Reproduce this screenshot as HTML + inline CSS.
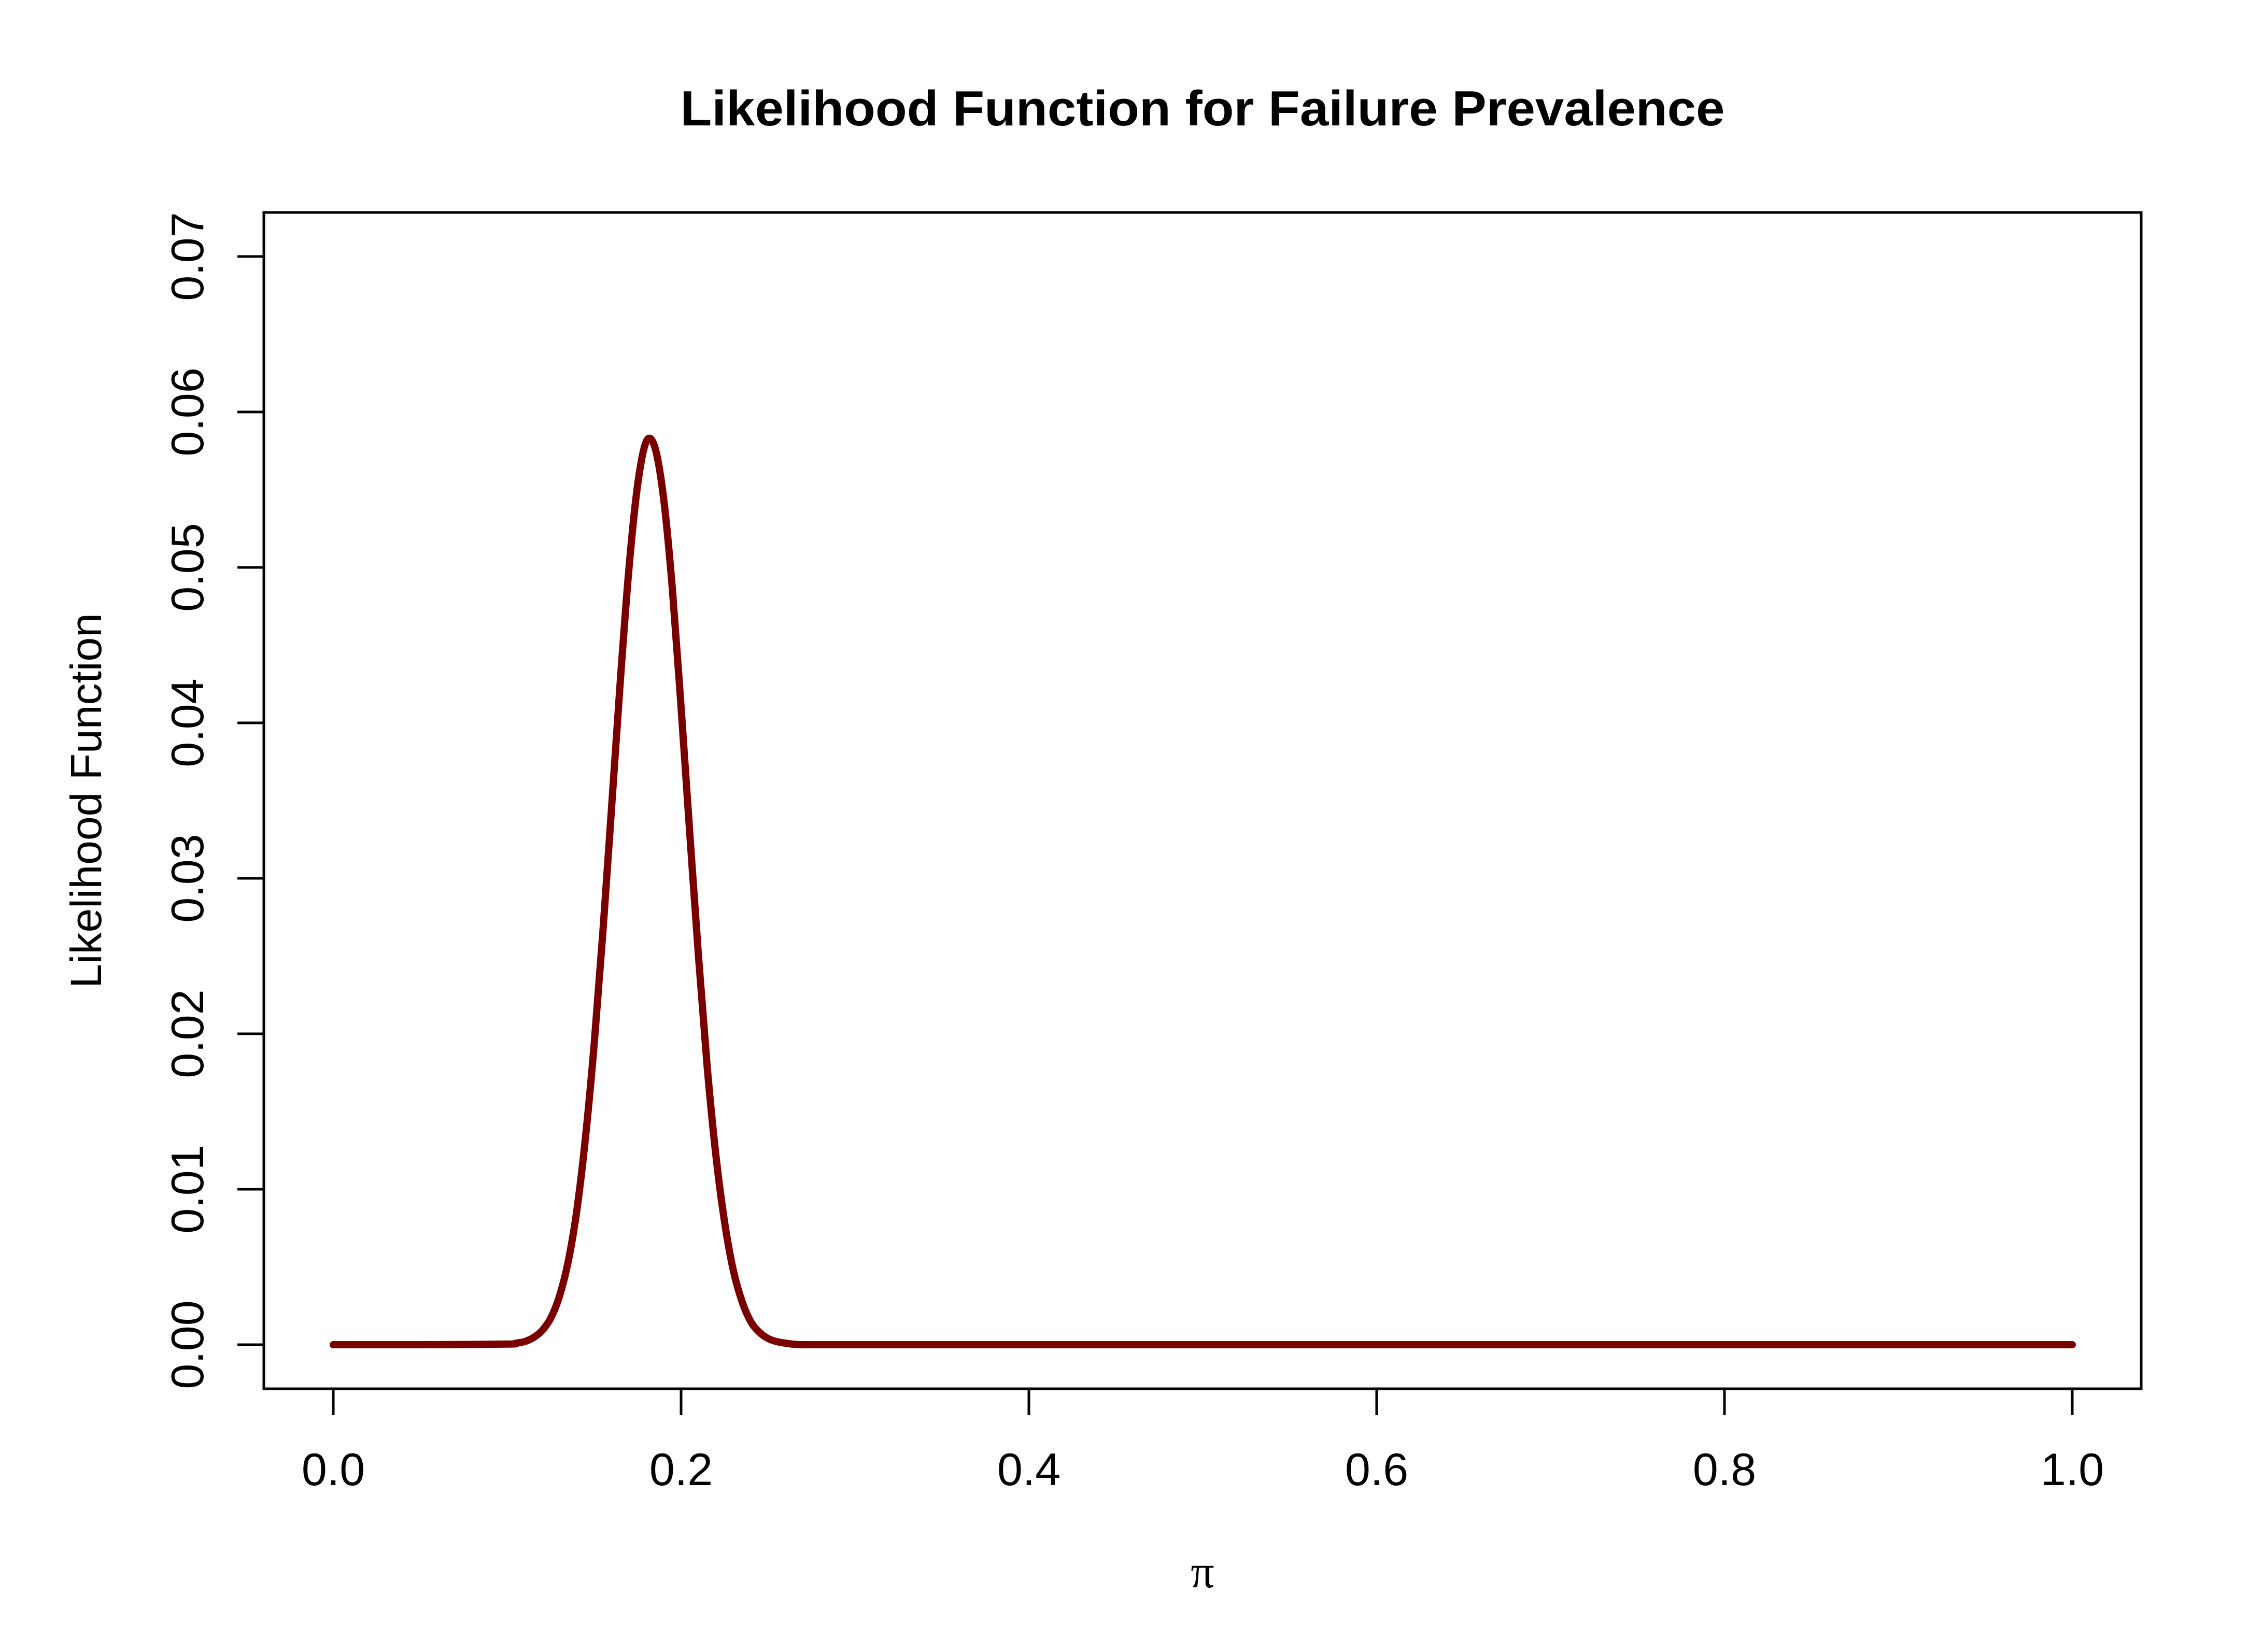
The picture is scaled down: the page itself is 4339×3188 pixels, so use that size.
<!DOCTYPE html>
<html><head><meta charset="utf-8"><style>
html,body{margin:0;padding:0;background:#fff;}
svg{display:block;}
</style></head><body>
<svg id="chart" width="4339" height="3188" viewBox="0 0 4339 3188" xmlns="http://www.w3.org/2000/svg">
<rect x="0" y="0" width="4339" height="3188" fill="#fff"/>
<text x="2320" y="242" text-anchor="middle" font-family="Liberation Sans, sans-serif" font-weight="bold" font-size="96" textLength="2015" lengthAdjust="spacingAndGlyphs">Likelihood Function for Failure Prevalence</text>
<rect x="509" y="410" width="3622" height="2270" fill="none" stroke="#000" stroke-width="5"/>
<g id="xaxis"></g>
<g id="yaxis"></g>
<text x="2320" y="3063" text-anchor="middle" font-family="Liberation Serif, serif" font-size="90">π</text>
<text transform="translate(195,1545) rotate(-90)" text-anchor="middle" font-family="Liberation Sans, sans-serif" font-size="84">Likelihood Function</text>
<g id="series"></g>
</svg>
<script>
const xTicks = [0, 0.2, 0.4, 0.6, 0.8, 1.0];
const xTickLabels = ["0.0", "0.2", "0.4", "0.6", "0.8", "1.0"];
const yTicks = [0, 0.01, 0.02, 0.03, 0.04, 0.05, 0.06, 0.07];
const yTickLabels = ["0.00", "0.01", "0.02", "0.03", "0.04", "0.05", "0.06", "0.07"];
const piValues = [0, 0.05, 0.100, 0.105, 0.110, 0.115, 0.120, 0.125, 0.130, 0.135, 0.140, 0.145, 0.150, 0.155, 0.160, 0.165, 0.170, 0.175, 0.180, 0.185, 0.190, 0.195, 0.200, 0.205, 0.210, 0.215, 0.220, 0.225, 0.230, 0.235, 0.240, 0.245, 0.250, 0.255, 0.260, 0.270, 0.30, 0.5, 1.0];
const likelihood = [0, 0, 0.00004, 0.0001, 0.0002, 0.00045, 0.0009, 0.0017, 0.0031, 0.0053, 0.0086, 0.0133, 0.0193, 0.0265, 0.0345, 0.0426, 0.0499, 0.0553, 0.0581, 0.0577, 0.0544, 0.0486, 0.0410, 0.0329, 0.0250, 0.0179, 0.0122, 0.0079, 0.0048, 0.0028, 0.0015, 0.0008, 0.0004, 0.0002, 0.0001, 0, 0, 0, 0];

const NS = "http://www.w3.org/2000/svg";
const X0 = 643, X1 = 3998, Y0 = 2595, Y7 = 495;
function sx(v){ return X0 + (X1 - X0) * v; }
function sy(v){ return Y0 - (Y0 - Y7) * v / 0.07; }
function mk(tag, attrs){ const e = document.createElementNS(NS, tag); for (const k in attrs) e.setAttribute(k, attrs[k]); return e; }

const xg = document.getElementById('xaxis');
xg.appendChild(mk('line', {x1: sx(xTicks[0]), x2: sx(xTicks[xTicks.length-1]), y1: 2680, y2: 2680, stroke: '#000', 'stroke-width': 5}));
xTicks.forEach((t, i) => {
  const l = mk('line', {x1: sx(t), x2: sx(t), y1: 2680, y2: 2731, stroke: '#000', 'stroke-width': 5});
  
  
  xg.appendChild(l);
  const tx = mk('text', {x: sx(t), y: 2866, 'text-anchor': 'middle', 'font-family': 'Liberation Sans, sans-serif', 'font-size': 88});
  tx.textContent = xTickLabels[i];
  
  
  xg.appendChild(tx);
});
const yg = document.getElementById('yaxis');
yg.appendChild(mk('line', {x1: 509, x2: 509, y1: sy(yTicks[0]), y2: sy(yTicks[yTicks.length-1]), stroke: '#000', 'stroke-width': 5}));
yTicks.forEach((t, i) => {
  const l = mk('line', {x1: 458, x2: 509, y1: sy(t), y2: sy(t), stroke: '#000', 'stroke-width': 5});
  
  
  yg.appendChild(l);
  const tx = mk('text', {transform: 'translate(392,' + sy(t) + ') rotate(-90)', 'text-anchor': 'middle', 'font-family': 'Liberation Sans, sans-serif', 'font-size': 88});
  tx.textContent = yTickLabels[i];
  
  
  yg.appendChild(tx);
});

const pts = piValues.map((p, i) => [sx(p), sy(likelihood[i])]);
let d = 'M' + pts[0][0] + ',' + pts[0][1];
for (let i = 0; i < pts.length - 1; i++) {
  const p0 = pts[Math.max(0, i-1)], p1 = pts[i], p2 = pts[i+1], p3 = pts[Math.min(pts.length-1, i+2)];
  let c1x = p1[0] + (p2[0]-p0[0])/6, c1y = p1[1] + (p2[1]-p0[1])/6;
  let c2x = p2[0] - (p3[0]-p1[0])/6, c2y = p2[1] - (p3[1]-p1[1])/6;
  if (p1[1] === p2[1]) { c1y = p1[1]; c2y = p2[1]; }
  c1y = Math.min(c1y, Y0);
  c2y = Math.min(c2y, Y0);
  d += ' C' + c1x + ',' + c1y + ' ' + c2x + ',' + c2y + ' ' + p2[0] + ',' + p2[1];
}
const path = mk('path', {d: d, fill: 'none', stroke: '#7a0000', 'stroke-width': 14, 'stroke-linecap': 'round', 'stroke-linejoin': 'round'});


document.getElementById('series').appendChild(path);
</script>
</body></html>
